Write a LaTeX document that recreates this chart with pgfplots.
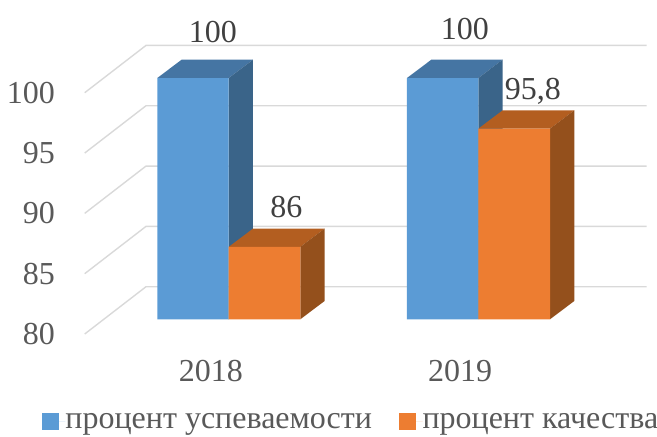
\documentclass[border=0pt]{standalone}
\usepackage{fontspec}
\setmainfont{Liberation Serif}
\usepackage{pgfplots}
\pgfplotsset{compat=1.18}
\usepackage{pgfplotstable}
\definecolor{cblue}{HTML}{5B9BD5}
\definecolor{cbluetop}{HTML}{4575A3}
\definecolor{cblueside}{HTML}{3A6489}
\definecolor{corange}{HTML}{ED7D31}
\definecolor{corangetop}{HTML}{B35E20}
\definecolor{corangeside}{HTML}{94501C}
\definecolor{gridc}{HTML}{D9D9D9}
\definecolor{ticktext}{HTML}{595959}
\definecolor{labeltext}{HTML}{404040}
\pgfplotstableread{
x y lx ly
193 100 20 46
442.65 100 22.3 48.7
}\bluedata
\pgfplotstableread{
x y lx ly
264.5 86 21.8 40
514.2 95.8 18.6 37
}\orangedata
\newcommand{\bigf}{\fontsize{32}{36}\selectfont}
\begin{document}
\begin{tikzpicture}
\path[use as bounding box] (-84.7pt,-117.7pt) rectangle (572.3pt,319.3pt);
\begin{axis}[
  scale only axis,width=562pt,height=289.56pt,
  xmin=84.7,xmax=646.7,ymin=80,ymax=104,clip=false,
  axis line style={draw=none},major tick length=0pt,
  /pgf/number format/assume math mode=true,
  xtick={211,460},xticklabels={2018,2019},
  ytick={80,85,90,95,100},
  tick label style={font=\bigf,text=ticktext},
  yticklabel style={anchor=east,yshift=-14.7pt,xshift=-26.4pt},
  xticklabel style={anchor=center,yshift=-51.4pt},
  legend columns=2,legend cell align=left,
  legend style={at={(-0.076,-0.3526)},anchor=west,draw=none,fill=none,inner sep=0pt,outer sep=0pt,
    font=\bigf,text=ticktext,
    /tikz/every even column/.append style={column sep=27pt},
    nodes={inner xsep=0pt,inner ysep=0pt}},
  legend image code/.code={\fill[#1] (0pt,-8.35pt) rectangle (16.7pt,8.35pt);\path (16.7pt,0pt) -- (23.5pt,0pt);},
  nodes near coords style={font=\bigf,text=labeltext,anchor=center},
]
% gridlines
\addplot[gridc,line width=1.4pt,forget plot] coordinates {(84.7,78.78)(146,82.70)(646.7,82.70)};
\addplot[gridc,line width=1.4pt,forget plot] coordinates {(84.7,83.78)(146,87.70)(646.7,87.70)};
\addplot[gridc,line width=1.4pt,forget plot] coordinates {(84.7,88.78)(146,92.70)(646.7,92.70)};
\addplot[gridc,line width=1.4pt,forget plot] coordinates {(84.7,93.78)(146,97.70)(646.7,97.70)};
\addplot[gridc,line width=1.4pt,forget plot] coordinates {(84.7,98.78)(146,102.70)(646.7,102.70)};
% 2018 blue depth
\addplot[fill=cbluetop,draw=none,forget plot] coordinates {(157.3,100)(228.7,100)(253,101.517)(181.6,101.517)} -- cycle;
\addplot[fill=cblueside,draw=none,forget plot] coordinates {(228.7,100)(228.7,80)(253,81.517)(253,101.517)} -- cycle;
% 2018 orange depth
\addplot[fill=corangetop,draw=none,forget plot] coordinates {(228.7,86)(300.3,86)(324.6,87.517)(253,87.517)} -- cycle;
\addplot[fill=corangeside,draw=none,forget plot] coordinates {(300.3,86)(300.3,80)(324.6,81.517)(324.6,87.517)} -- cycle;
% 2019 blue depth
\addplot[fill=cbluetop,draw=none,forget plot] coordinates {(407,100)(478.3,100)(502.6,101.517)(431.3,101.517)} -- cycle;
\addplot[fill=cblueside,draw=none,forget plot] coordinates {(478.3,100)(478.3,80)(502.6,81.517)(502.6,101.517)} -- cycle;
% 2019 orange depth
\addplot[fill=corangetop,draw=none,forget plot] coordinates {(478.3,95.8)(550,95.8)(574.3,97.317)(502.6,97.317)} -- cycle;
\addplot[fill=corangeside,draw=none,forget plot] coordinates {(550,95.8)(550,80)(574.3,81.517)(574.3,97.317)} -- cycle;
% fronts
\addplot[ybar,bar width=71.4pt,bar shift=0pt,fill=cblue,draw=none,
  /pgf/number format/use comma,
  visualization depends on={\thisrow{lx}\as\lx},
  visualization depends on={\thisrow{ly}\as\ly},
  every node near coord/.append style={xshift=\lx pt,yshift=\ly pt},
  nodes near coords] table[x=x,y=y]{\bluedata};
\addlegendentry{процент успеваемости}
\addplot[ybar,bar width=71.6pt,bar shift=0pt,fill=corange,draw=none,
  /pgf/number format/use comma,
  visualization depends on={\thisrow{lx}\as\lx},
  visualization depends on={\thisrow{ly}\as\ly},
  every node near coord/.append style={xshift=\lx pt,yshift=\ly pt},
  nodes near coords] table[x=x,y=y]{\orangedata};
\addlegendentry{процент качества}
\end{axis}
\end{tikzpicture}
\end{document}
